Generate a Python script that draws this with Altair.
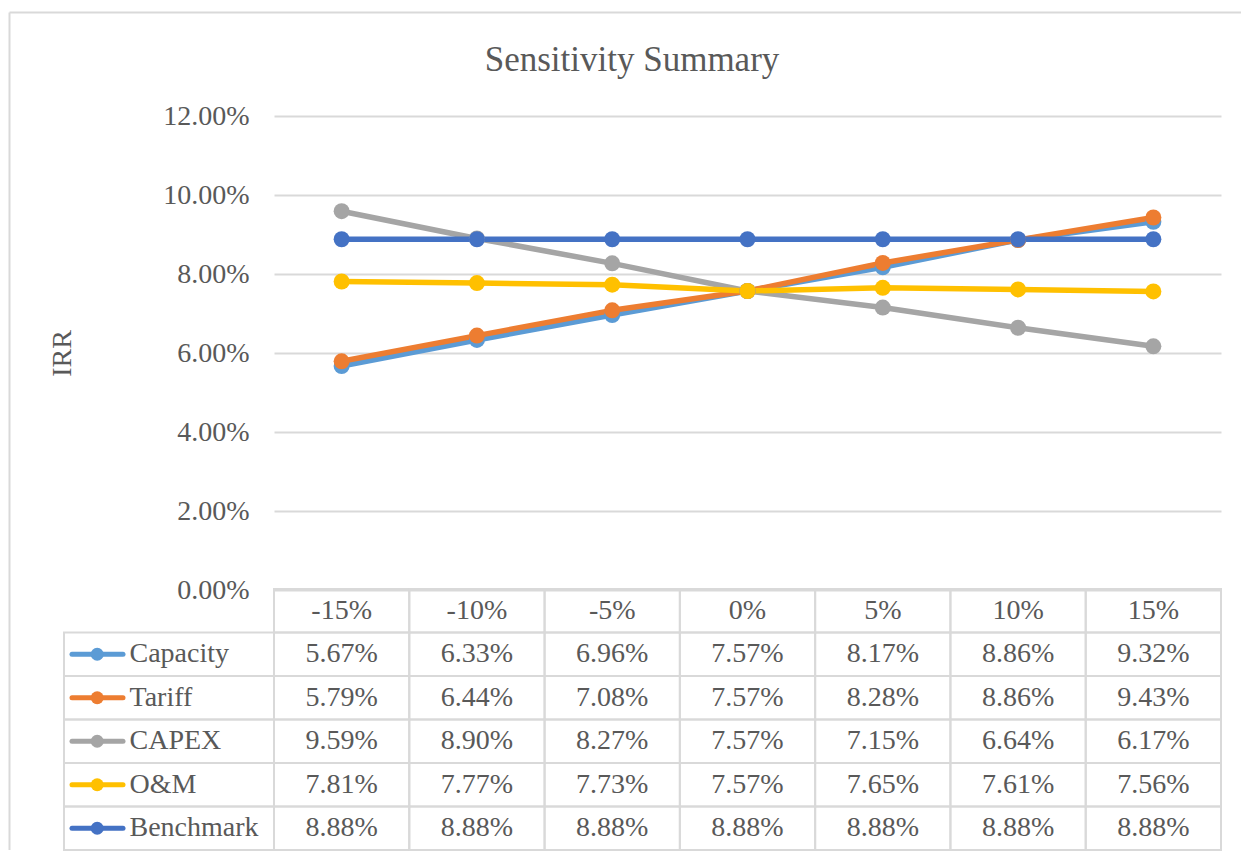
import altair as alt
import pandas as pd

# ---------------- data ----------------
categories = ["-15%", "-10%", "-5%", "0%", "5%", "10%", "15%"]
series_names = ["Capacity", "Tariff", "CAPEX", "O&M", "Benchmark"]
capacity = [5.67, 6.33, 6.96, 7.57, 8.17, 8.86, 9.32]
tariff = [5.79, 6.44, 7.08, 7.57, 8.28, 8.86, 9.43]
capex = [9.59, 8.90, 8.27, 7.57, 7.15, 6.64, 6.17]
om = [7.81, 7.77, 7.73, 7.57, 7.65, 7.61, 7.56]
benchmark = [8.88, 8.88, 8.88, 8.88, 8.88, 8.88, 8.88]
series_colors = ["#5B9BD5", "#ED7D31", "#A5A5A5", "#FFC000", "#4472C4"]
y_ticks = [0.0, 0.02, 0.04, 0.06, 0.08, 0.10, 0.12]
chart_title = "Sensitivity Summary"
y_title = "IRR"

# ---------------- tables built from the arrays ----------------
values = [capacity, tariff, capex, om, benchmark]
records = []
for s, vals in zip(series_names, values):
    for c, v in zip(categories, vals):
        records.append({"series": s, "cat": c, "value": v / 100, "label": f"{v:.2f}%"})
df = pd.DataFrame(records)

HEADER = "header"
row_domain = [HEADER] + series_names
table_rows = [{"row": HEADER, "cat": c, "text": c} for c in categories]
table_rows += [{"row": r["series"], "cat": r["cat"], "text": r["label"]} for r in records]
table_df = pd.DataFrame(table_rows)
legend_df = pd.DataFrame({"row": series_names, "series": series_names})
title_df = pd.DataFrame({"t": [chart_title]})

# ---------------- style ----------------
FONT = "Liberation Serif"
TEXT_COLOR = "#595959"
GRID = "#D9D9D9"
W, H = 947, 474

x_scale = alt.Scale(type="band", domain=categories, paddingInner=0, paddingOuter=0)
color_scale = alt.Scale(domain=series_names, range=series_colors)
y_scale = alt.Scale(domain=[0, 0.12], nice=False)
row_scale = alt.Scale(type="band", domain=row_domain, range=[473, 734],
                      paddingInner=0, paddingOuter=0)

y_axis = alt.Axis(values=y_ticks, format=".2%", labelFont=FONT, labelFontSize=28,
                  labelColor=TEXT_COLOR, labelPadding=25, ticks=False, domain=False,
                  grid=True, gridColor=GRID, gridWidth=2, title=y_title,
                  titleFont=FONT, titleFontSize=28, titleFontWeight="normal",
                  titleColor=TEXT_COLOR, titlePadding=86)

x_line = alt.X("cat:N", scale=x_scale, axis=None, bandPosition=0.5)
y_line = alt.Y("value:Q", scale=y_scale, axis=y_axis)

# ---------------- chart part ----------------
frame_top = alt.Chart(title_df).mark_rule(stroke=GRID, strokeWidth=2).encode(
    x=alt.value(-264.5), x2=alt.value(967), y=alt.value(-103.5)
)
frame_left = alt.Chart(title_df).mark_rule(stroke=GRID, strokeWidth=2).encode(
    x=alt.value(-264.5), y=alt.value(-103.5), y2=alt.value(734)
)
title = alt.Chart(title_df).mark_text(
    font=FONT, fontSize=35, color=TEXT_COLOR, align="center", baseline="middle"
).encode(text="t:N", x=alt.value(358), y=alt.value(-56.5))

line_layers = []
for s, col in zip(series_names, series_colors):
    line_layers.append(
        alt.Chart(df)
        .transform_filter(alt.datum.series == s)
        .mark_line(color=col, strokeWidth=5.5, strokeCap="round", strokeJoin="round")
        .encode(x=x_line, y=y_line)
    )
points = alt.Chart(df).mark_point(filled=True, size=256, opacity=1).encode(
    x=x_line, y=y_line, color=alt.Color("series:N", scale=color_scale, legend=None)
)

top = alt.layer(frame_top, frame_left, title, *line_layers, points)

# ---------------- data table part ----------------
x_cell = alt.X("cat:N", scale=x_scale, axis=None)
y_cell = alt.Y("row:N", scale=row_scale, axis=None)
x_mid = alt.X("cat:N", scale=x_scale, axis=None, bandPosition=0.5)
y_mid = alt.Y("row:N", scale=row_scale, axis=None, bandPosition=0.5)

cells = alt.Chart(table_df).mark_rect(fillOpacity=0, stroke=GRID, strokeWidth=2).encode(
    x=x_cell, y=y_cell
)
cell_text = alt.Chart(table_df).mark_text(
    font=FONT, fontSize=28, color=TEXT_COLOR, baseline="middle", align="center"
).encode(x=x_mid, y=y_mid, text="text:N")

left_cells = alt.Chart(legend_df).mark_rect(fillOpacity=0, stroke=GRID, strokeWidth=2).encode(
    x=alt.value(-210), x2=alt.value(0), y=y_cell
)
leg_rule = alt.Chart(legend_df).mark_rule(strokeWidth=5, strokeCap="round").encode(
    x=alt.value(-202), x2=alt.value(-151), y=y_mid,
    color=alt.Color("series:N", scale=color_scale, legend=None)
)
leg_pt = alt.Chart(legend_df).mark_point(filled=True, size=169, opacity=1).encode(
    x=alt.value(-176.8), y=y_mid,
    color=alt.Color("series:N", scale=color_scale, legend=None)
)
leg_text = alt.Chart(legend_df).mark_text(
    font=FONT, fontSize=28, color=TEXT_COLOR, align="left", baseline="middle"
).encode(x=alt.value(-144.5), y=y_mid, text="row:N")

table = alt.layer(cells, cell_text, left_cells, leg_rule, leg_pt, leg_text)

chart = (
    alt.layer(top, table)
    .resolve_scale(y="independent")
    .properties(width=W, height=H,
                padding={"left": 0, "top": 3, "right": 0, "bottom": 0})
    .configure_view(stroke=None)
)

chart.save("out.html", embed_options={"renderer": "svg", "actions": False})
